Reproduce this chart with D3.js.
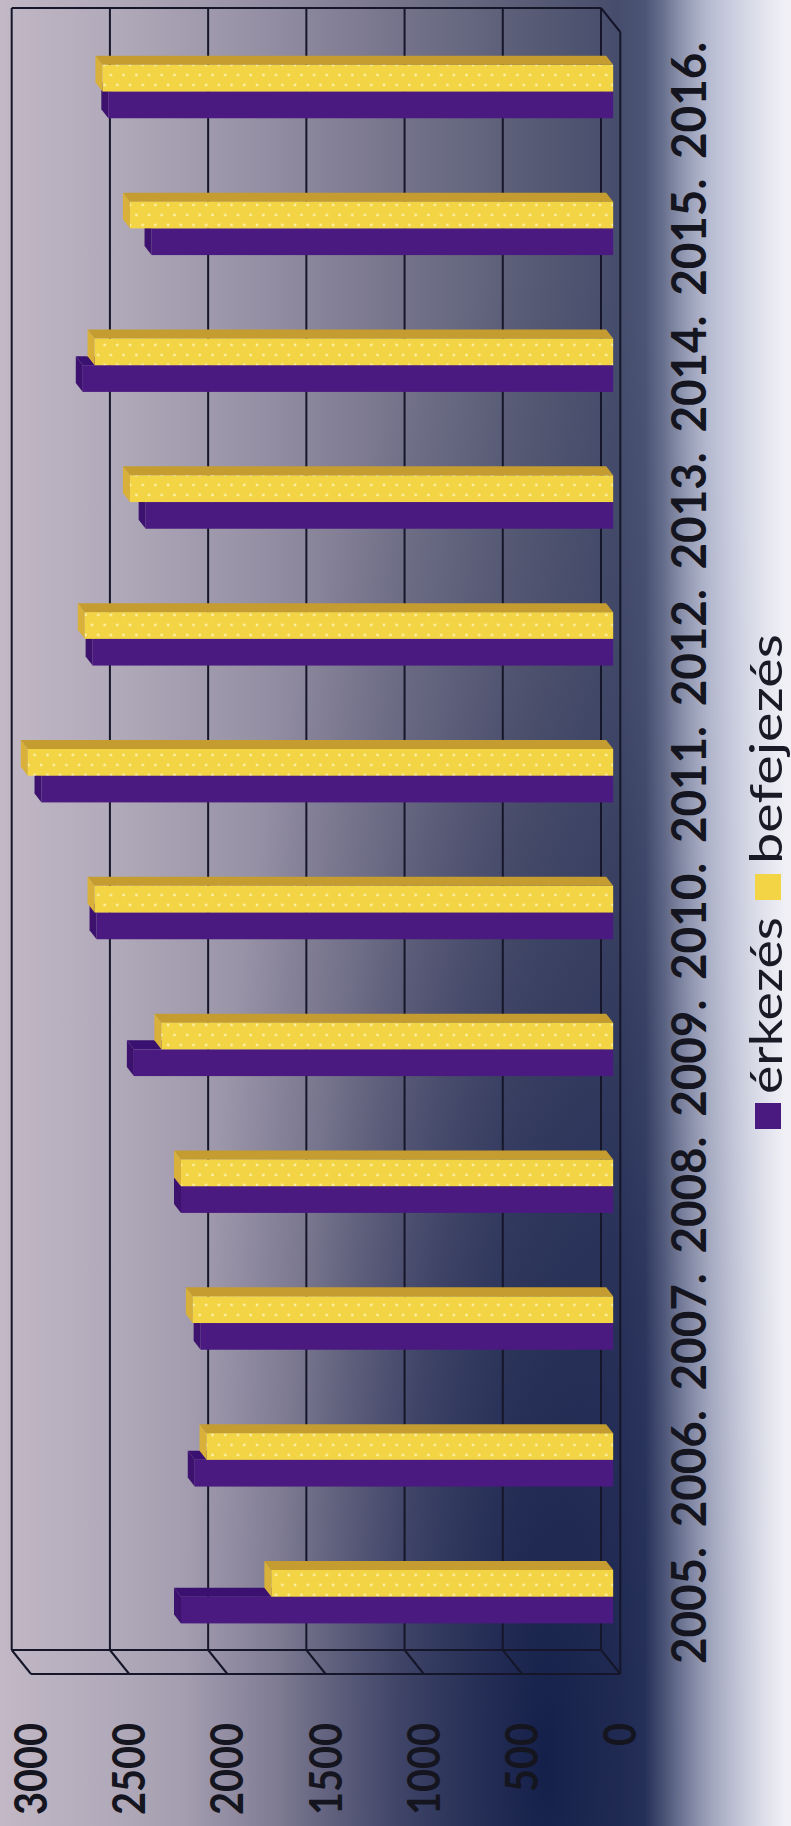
<!DOCTYPE html>
<html>
<head>
<meta charset="utf-8">
<script src="https://cdn.jsdelivr.net/npm/d3@7"></script>
<style>
  body { margin: 0; background: #eeeef5; }
  svg { display: block; }
</style>
</head>
<body>
<script>
// chart data (the printed chart is turned on its side)
var years = ["2005.", "2006.", "2007.", "2008.", "2009.", "2010.", "2011.", "2012.", "2013.", "2014.", "2015.", "2016."];
var erkezes = [2200, 2130, 2100, 2200, 2440, 2630, 2910, 2650, 2380, 2700, 2350, 2570];
var befejezes = [1740, 2070, 2140, 2200, 2300, 2640, 2980, 2690, 2460, 2640, 2460, 2600];
var tickValues = [0, 500, 1000, 1500, 2000, 2500, 3000];
var seriesNames = ["érkezés", "befejezés"];

var width = 791, height = 1826;

var svg = d3.select("body").append("svg")
    .attr("width", width)
    .attr("height", height)
    .style("font-family", "Lato, 'Open Sans', sans-serif");

var defs = svg.append("defs");

// background: light mauve on the left, navy in the middle, white at the right
var bgH = defs.append("linearGradient").attr("id", "bgH")
    .attr("gradientUnits", "userSpaceOnUse")
    .attr("x1", 0).attr("y1", 0).attr("x2", width).attr("y2", 0);
[[0, "#c2b8c6"], [0.15, "#b0a9b9"], [0.3, "#9a94a8"], [0.5, "#76748c"], [0.68, "#565a74"],
 [0.78, "#464d6c"], [0.84, "#505a7c"], [0.9, "#8c94b4"], [1, "#c0c4d8"]]
  .forEach(function(s) { bgH.append("stop").attr("offset", s[0]).attr("stop-color", s[1]); });

var bgDark = defs.append("radialGradient").attr("id", "bgDark")
    .attr("gradientUnits", "userSpaceOnUse")
    .attr("cx", 545).attr("cy", 1760).attr("r", 1500)
    .attr("gradientTransform", "translate(545,1760) scale(0.24,1) translate(-545,-1760)");
bgDark.append("stop").attr("offset", 0).attr("stop-color", "#0e1a46").attr("stop-opacity", 0.9);
bgDark.append("stop").attr("offset", 0.4).attr("stop-color", "#121d4a").attr("stop-opacity", 0.55);
bgDark.append("stop").attr("offset", 0.75).attr("stop-color", "#1a2148").attr("stop-opacity", 0.15);
bgDark.append("stop").attr("offset", 1).attr("stop-color", "#1a2148").attr("stop-opacity", 0);

var bgW = defs.append("linearGradient").attr("id", "bgW")
    .attr("gradientUnits", "userSpaceOnUse")
    .attr("x1", 645).attr("y1", 0).attr("x2", 785).attr("y2", 0);
bgW.append("stop").attr("offset", 0).attr("stop-color", "#eeeef5").attr("stop-opacity", 0);
bgW.append("stop").attr("offset", 0.5).attr("stop-color", "#dadcea").attr("stop-opacity", 0.6);
bgW.append("stop").attr("offset", 1).attr("stop-color", "#f0f0f6").attr("stop-opacity", 1);

// dotted yellow front face
var dots = defs.append("pattern").attr("id", "dots")
    .attr("patternUnits", "userSpaceOnUse")
    .attr("width", 12.7).attr("height", 20);
dots.append("rect").attr("width", 12.7).attr("height", 20).attr("fill", "#f3d444");
dots.append("circle").attr("cx", 3).attr("cy", 5).attr("r", 1.4).attr("fill", "#fcefa4");
dots.append("circle").attr("cx", 9.35).attr("cy", 15).attr("r", 1.4).attr("fill", "#fcefa4");

svg.append("rect").attr("width", width).attr("height", height).attr("fill", "url(#bgH)");
svg.append("rect").attr("width", width).attr("height", height).attr("fill", "url(#bgDark)");
svg.append("rect").attr("width", width).attr("height", height).attr("fill", "url(#bgW)");

// back wall of the 3D plot
var wallTop = 8, wallBottom = 1650;
var depth = [19.3, 24];          // back wall -> front edge
var barFront = 0.63;             // bars' front face, as share of the depth
var barDepth = [7, 9];           // bar thickness in depth

var x = d3.scaleLinear().domain([0, 3000]).range([601, 11.7]);

var y = d3.scaleBand()
    .domain(years.slice().reverse())
    .range([wallTop, wallBottom])
    .padding(0);

var barH = 26.7;

var grid = svg.append("g").attr("class", "grid")
    .attr("stroke", "#16162a")
    .attr("stroke-width", 2)
    .attr("fill", "none");

grid.selectAll("line.v")
    .data(tickValues)
    .enter().append("line")
      .attr("class", "v")
      .attr("x1", function(d) { return x(d); })
      .attr("x2", function(d) { return x(d); })
      .attr("y1", wallTop)
      .attr("y2", wallBottom);

// floor lines
grid.selectAll("line.f")
    .data(tickValues)
    .enter().append("line")
      .attr("class", "f")
      .attr("x1", function(d) { return x(d); })
      .attr("y1", wallBottom)
      .attr("x2", function(d) { return x(d) + depth[0]; })
      .attr("y2", wallBottom + depth[1]);

grid.append("line")
    .attr("x1", x(3000)).attr("x2", x(0))
    .attr("y1", wallTop).attr("y2", wallTop);
grid.append("line")
    .attr("x1", x(3000)).attr("x2", x(0))
    .attr("y1", wallBottom).attr("y2", wallBottom);
grid.append("line")
    .attr("x1", x(3000) + depth[0]).attr("x2", x(0) + depth[0])
    .attr("y1", wallBottom + depth[1]).attr("y2", wallBottom + depth[1]);
// side wall at zero
grid.append("line")
    .attr("x1", x(0)).attr("y1", wallTop)
    .attr("x2", x(0) + depth[0]).attr("y2", wallTop + depth[1]);
grid.append("line")
    .attr("x1", x(0) + depth[0]).attr("y1", wallTop + depth[1])
    .attr("x2", x(0) + depth[0]).attr("y2", wallBottom + depth[1]);

// bars
var fx = depth[0] * barFront, fy = depth[1] * barFront;

var rows = years.map(function(yr, i) {
  return { year: yr, values: [erkezes[i], befejezes[i]] };
});

var colors = [
  { front: "#4a1a80", side: "#3a1170", cap: "#3d126f" },
  { front: "url(#dots)", side: "#c49c30", cap: "#d8b03a" }
];

function drawBar(g, v, top, c) {
  var xl = x(v) + fx, xr = x(0) + fx, bot = top + barH;
  var dx = barDepth[0], dy = barDepth[1];
  // side (top strip)
  g.append("path")
      .attr("d", "M" + xl + "," + top + "L" + xr + "," + top +
                 "L" + (xr - dx) + "," + (top - dy) + "L" + (xl - dx) + "," + (top - dy) + "Z")
      .attr("fill", c.side);
  // end cap
  g.append("path")
      .attr("d", "M" + xl + "," + top + "L" + xl + "," + bot +
                 "L" + (xl - dx) + "," + (bot - dy) + "L" + (xl - dx) + "," + (top - dy) + "Z")
      .attr("fill", c.cap);
  g.append("rect")
      .attr("x", xl).attr("y", top)
      .attr("width", xr - xl).attr("height", barH)
      .attr("fill", c.front);
}

var groups = svg.append("g").attr("class", "bars")
  .selectAll("g")
  .data(rows)
  .enter().append("g");

groups.each(function(d) {
  var g = d3.select(this);
  var mid = y(d.year) + y.bandwidth() / 2 + fy;
  // érkezés sits below, befejezés above and is drawn last
  drawBar(g, d.values[0], mid, colors[0]);
  drawBar(g, d.values[1], mid - barH, colors[1]);
});

// value labels along the bottom
svg.append("g").attr("class", "value-labels")
  .selectAll("text")
  .data(tickValues)
  .enter().append("text")
    .attr("transform", function(d) {
      return "translate(" + (x(d) + depth[0] + 16) + ",1723) rotate(-90)";
    })
    .attr("text-anchor", "end")
    .attr("font-size", 45)
    .attr("font-weight", "bold")
    .attr("fill", "#15151f")
    .attr("textLength", function(d) { return String(d).length * 23; })
    .attr("lengthAdjust", "spacingAndGlyphs")
    .text(function(d) { return d; });

// year labels on the right
svg.append("g").attr("class", "year-labels")
  .selectAll("text")
  .data(years)
  .enter().append("text")
    .attr("transform", function(d) {
      return "translate(706," + (y(d) + y.bandwidth() / 2 + depth[1]) + ") rotate(-90)";
    })
    .attr("text-anchor", "middle")
    .attr("font-size", 48)
    .attr("font-weight", "bold")
    .attr("fill", "#15151f")
    .attr("textLength", 117)
    .attr("lengthAdjust", "spacingAndGlyphs")
    .text(function(d) { return d; });

// legend
var legendItems = [
  { name: seriesNames[0], color: "#4a1a80", sq: 1103, text: 1094, len: 177 },
  { name: seriesNames[1], color: "#f3d444", sq: 874, text: 864, len: 230 }
];

var legend = svg.append("g").attr("class", "legend");
legend.selectAll("rect")
  .data(legendItems)
  .enter().append("rect")
    .attr("x", 755)
    .attr("y", function(d) { return d.sq; })
    .attr("width", 26)
    .attr("height", 26)
    .attr("fill", function(d) { return d.color; });

legend.selectAll("text")
  .data(legendItems)
  .enter().append("text")
    .attr("transform", function(d) { return "translate(782," + d.text + ") rotate(-90)"; })
    .attr("font-size", 44)
    .attr("fill", "#1a1a26")
    .attr("textLength", function(d) { return d.len; })
    .attr("lengthAdjust", "spacingAndGlyphs")
    .text(function(d) { return d.name; });
</script>
</body>
</html>
